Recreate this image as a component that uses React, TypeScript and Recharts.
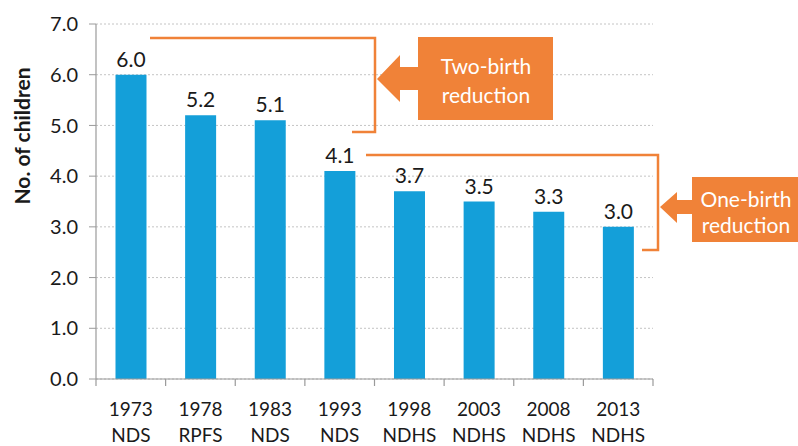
import { BarChart, Bar, XAxis, YAxis, CartesianGrid, LabelList } from 'recharts';

const YEARS = ['1973', '1978', '1983', '1993', '1998', '2003', '2008', '2013'];
const SURVEYS = ['NDS', 'RPFS', 'NDS', 'NDS', 'NDHS', 'NDHS', 'NDHS', 'NDHS'];
const TFR = [6.0, 5.2, 5.1, 4.1, 3.7, 3.5, 3.3, 3.0];
const Y_TICKS = [0, 1, 2, 3, 4, 5, 6, 7];

const W = 798;
const H = 446;
const BLUE = '#149fd9';
const ORANGE = '#f08238';
const FONT = 'Lato, "Open Sans", sans-serif';
const PLOT_W = 557;

const data = YEARS.map((year, i) => ({ year, survey: SURVEYS[i], value: TFR[i] }));

function CategoryTick(props: any) {
  const { x, y, payload, index, visibleTicksCount } = props;
  const count = visibleTicksCount || YEARS.length;
  const step = (props.width || PLOT_W) / count;
  const left = x - step / 2;
  const right = x + step / 2;
  return (
    <g>
      <line x1={left} y1={y} x2={left} y2={y + 7} stroke="#9a9a9a" strokeWidth={1.2} />
      {index === count - 1 && (
        <line x1={right} y1={y} x2={right} y2={y + 7} stroke="#9a9a9a" strokeWidth={1.2} />
      )}
      <text x={x} y={y} textAnchor="middle" fontSize={19} fill="#1a1a1a" fontFamily={FONT}>
        <tspan x={x} dy={37}>{payload.value}</tspan>
        <tspan x={x} dy={26}>{SURVEYS[index]}</tspan>
      </text>
    </g>
  );
}

function YTitle() {
  const cx = 21;
  const cy = 136;
  return (
    <text
      x={cx}
      y={cy}
      transform={`rotate(-90 ${cx} ${cy})`}
      textAnchor="middle"
      dominantBaseline="central"
      fontSize={21}
      fontWeight={700}
      fill="#1a1a1a"
      fontFamily={FONT}
    >
      No. of children
    </text>
  );
}

export default function App() {
  return (
    <div style={{ position: 'absolute', left: 0, top: 0, width: W, height: H, background: '#fff' }}>
      <BarChart
        width={W}
        height={H}
        data={data}
        margin={{ top: 24, right: 145, left: 0, bottom: 0 }}
        barCategoryGap="28%"
      >
        <CartesianGrid vertical={false} stroke="#c4c4c4" strokeDasharray="2 2" />
        <XAxis
          dataKey="year"
          height={67}
          axisLine={{ stroke: '#9a9a9a', strokeWidth: 1.2 }}
          tickLine={false}
          tickSize={0}
          tickMargin={0}
          interval={0}
          tick={<CategoryTick />}
        />
        <YAxis
          width={96}
          domain={[0, 7]}
          ticks={Y_TICKS}
          tickFormatter={(v: number) => v.toFixed(1)}
          tick={{ fontSize: 20, fill: '#1a1a1a', fontFamily: FONT }}
          axisLine={{ stroke: '#9a9a9a', strokeWidth: 1.2 }}
          tickLine={{ stroke: '#9a9a9a' }}
          tickSize={7}
          tickMargin={11}
          label={{ content: <YTitle /> }}
        />
        <Bar dataKey="value" fill={BLUE} isAnimationActive={false}>
          <LabelList
            dataKey="value"
            position="top"
            offset={8}
            formatter={(v: number) => v.toFixed(1)}
            style={{ fontSize: 21, fill: '#1a1a1a', fontFamily: FONT }}
          />
        </Bar>
      </BarChart>
      <svg
        width={W}
        height={H}
        style={{ position: 'absolute', left: 0, top: 0, pointerEvents: 'none' }}
      >
        <polyline
          points="150,38 375,38 375,132 352,132"
          fill="none"
          stroke={ORANGE}
          strokeWidth={2.5}
        />
        <polygon
          points="377,79 400,55 400,67 418,67 418,37 553,37 553,120 418,120 418,90 400,90 400,102"
          fill={ORANGE}
        />
        <text x={486} y={74} textAnchor="middle" fontSize={21} fill="#fff" fontFamily={FONT}>
          Two-birth
        </text>
        <text x={486} y={103} textAnchor="middle" fontSize={21} fill="#fff" fontFamily={FONT}>
          reduction
        </text>
        <polyline
          points="366,155 658,155 658,250 642,250"
          fill="none"
          stroke={ORANGE}
          strokeWidth={2.5}
        />
        <polygon
          points="660,207 677,192 677,200 692,200 692,177 798,177 798,242 692,242 692,214 677,214 677,223"
          fill={ORANGE}
        />
        <text x={746} y={207} textAnchor="middle" fontSize={21} fill="#fff" fontFamily={FONT}>
          One-birth
        </text>
        <text x={746} y={233} textAnchor="middle" fontSize={21} fill="#fff" fontFamily={FONT}>
          reduction
        </text>
      </svg>
    </div>
  );
}
